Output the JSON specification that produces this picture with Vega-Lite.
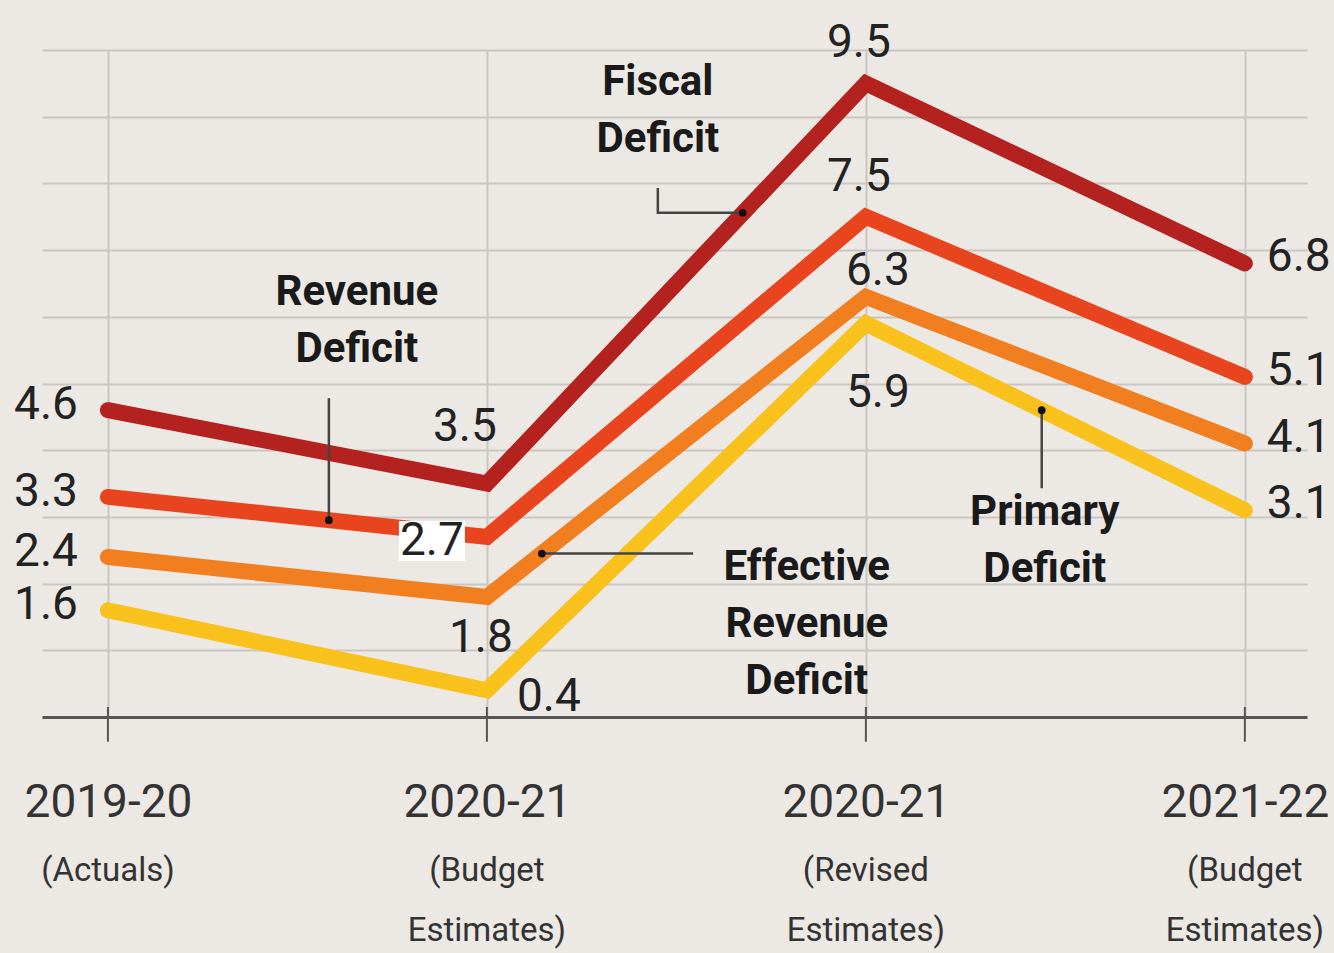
{
  "$schema": "https://vega.github.io/schema/vega-lite/v6.json",
  "width": 1265,
  "height": 667,
  "autosize": "none",
  "padding": {"left": 42, "top": 50, "right": 27, "bottom": 236},
  "background": "#ece8e4",
  "config": {
    "view": {"stroke": null},
    "font": "Roboto, sans-serif"
  },
  "datasets": {
    "main": [
      {"idx": 0, "series": "Fiscal Deficit", "value": 4.6},
      {"idx": 1, "series": "Fiscal Deficit", "value": 3.5},
      {"idx": 2, "series": "Fiscal Deficit", "value": 9.5},
      {"idx": 3, "series": "Fiscal Deficit", "value": 6.8},
      {"idx": 0, "series": "Revenue Deficit", "value": 3.3},
      {"idx": 1, "series": "Revenue Deficit", "value": 2.7},
      {"idx": 2, "series": "Revenue Deficit", "value": 7.5},
      {"idx": 3, "series": "Revenue Deficit", "value": 5.1},
      {"idx": 0, "series": "Effective Revenue Deficit", "value": 2.4},
      {"idx": 1, "series": "Effective Revenue Deficit", "value": 1.8},
      {"idx": 2, "series": "Effective Revenue Deficit", "value": 6.3},
      {"idx": 3, "series": "Effective Revenue Deficit", "value": 4.1},
      {"idx": 0, "series": "Primary Deficit", "value": 1.6},
      {"idx": 1, "series": "Primary Deficit", "value": 0.4},
      {"idx": 2, "series": "Primary Deficit", "value": 5.9},
      {"idx": 3, "series": "Primary Deficit", "value": 3.1}
    ],
    "periods": [
      {"idx": 0, "year": "2019-20", "note": "(Actuals)"},
      {"idx": 1, "year": "2020-21", "note": "(Budget\nEstimates)"},
      {"idx": 2, "year": "2020-21", "note": "(Revised\nEstimates)"},
      {"idx": 3, "year": "2021-22", "note": "(Budget\nEstimates)"}
    ],
    "leaders": [
      {"id": "fd", "o": 0, "x": 1.451, "y": 7.93, "dot": false},
      {"id": "fd", "o": 1, "x": 1.451, "y": 7.56, "dot": false},
      {"id": "fd", "o": 2, "x": 1.675, "y": 7.56, "dot": true},
      {"id": "rd", "o": 0, "x": 0.583, "y": 4.78, "dot": false},
      {"id": "rd", "o": 1, "x": 0.583, "y": 2.95, "dot": true},
      {"id": "erd", "o": 0, "x": 1.145, "y": 2.45, "dot": true},
      {"id": "erd", "o": 1, "x": 1.544, "y": 2.45, "dot": false},
      {"id": "pd", "o": 0, "x": 2.464, "y": 4.6, "dot": true},
      {"id": "pd", "o": 1, "x": 2.464, "y": 3.43, "dot": false}
    ],
    "names": [
      {"x": 1.451, "y": 9.52, "text": "Fiscal\nDeficit"},
      {"x": 0.657, "y": 6.37, "text": "Revenue\nDeficit"},
      {"x": 1.844, "y": 2.25, "text": "Effective\nRevenue\nDeficit"},
      {"x": 2.472, "y": 3.07, "text": "Primary\nDeficit"}
    ]
  },
  "layer": [
    {
      "data": {"name": "main"},
      "mark": {"type": "line", "strokeWidth": 16, "strokeCap": "round", "strokeJoin": "miter"},
      "encoding": {
        "x": {
          "field": "idx", "type": "quantitative",
          "scale": {"domain": [-0.174, 3.164], "nice": false, "zero": false},
          "axis": {
            "values": [0, 1, 2, 3],
            "labelExpr": "datum.value == 0 ? '2019-20' : datum.value == 3 ? '2021-22' : '2020-21'",
            "grid": true, "gridColor": "#c9c5c1", "gridWidth": 2,
            "ticks": false,
            "domainColor": "#555555", "domainWidth": 3,
            "labelFontSize": 46, "labelColor": "#333333", "labelLimit": 0,
            "labelPadding": 63, "labelBaseline": "top",
            "labelFlush": false, "labelOverlap": false,
            "title": null
          }
        },
        "y": {
          "field": "value", "type": "quantitative",
          "scale": {"domain": [0, 10], "nice": false},
          "axis": {
            "values": [1, 2, 3, 4, 5, 6, 7, 8, 9, 10],
            "grid": true, "gridColor": "#c9c5c1", "gridWidth": 2,
            "labels": false, "ticks": false, "domain": false, "title": null
          }
        },
        "color": {
          "field": "series", "type": "nominal",
          "scale": {
            "domain": ["Fiscal Deficit", "Revenue Deficit", "Effective Revenue Deficit", "Primary Deficit"],
            "range": ["#b3221f", "#e8441d", "#f17f1f", "#f9c11c"]
          },
          "legend": null
        },
        "order": {"field": "idx"}
      }
    },
    {
      "data": {"name": "periods"},
      "mark": {"type": "rule", "stroke": "#555555", "strokeWidth": 2},
      "encoding": {
        "x": {"field": "idx", "type": "quantitative"},
        "y": {"datum": 0.15},
        "y2": {"datum": -0.37}
      }
    },
    {
      "data": {"name": "periods"},
      "mark": {"type": "text", "baseline": "top", "align": "center", "fontSize": 33, "lineHeight": 60, "lineBreak": "\n", "color": "#333333"},
      "encoding": {
        "x": {"field": "idx", "type": "quantitative"},
        "y": {"datum": -2.07},
        "text": {"field": "note"}
      }
    },
    {
      "data": {"name": "leaders"},
      "mark": {"type": "line", "stroke": "#444444", "strokeWidth": 2.5},
      "encoding": {
        "x": {"field": "x", "type": "quantitative"},
        "y": {"field": "y", "type": "quantitative"},
        "detail": {"field": "id"},
        "order": {"field": "o"}
      }
    },
    {
      "data": {"name": "leaders"},
      "transform": [{"filter": "datum.dot"}],
      "mark": {"type": "point", "filled": true, "size": 60, "color": "#111111", "opacity": 1},
      "encoding": {
        "x": {"field": "x", "type": "quantitative"},
        "y": {"field": "y", "type": "quantitative"}
      }
    },
    {
      "data": {"name": "main"},
      "transform": [{"filter": "datum.idx == 1 && datum.series == 'Revenue Deficit'"}],
      "mark": {"type": "point", "filled": true, "color": "#ffffff", "opacity": 1, "size": 1600, "shape": "M-1.65,-1L1.65,-1L1.65,1L-1.65,1Z", "xOffset": -55, "yOffset": 4},
      "encoding": {
        "x": {"field": "idx", "type": "quantitative"},
        "y": {"field": "value", "type": "quantitative"}
      }
    },
    {
      "data": {"name": "names"},
      "mark": {"type": "text", "align": "center", "baseline": "middle", "fontSize": 42, "fontWeight": "bold", "lineHeight": 57, "lineBreak": "\n", "color": "#1a1a1a"},
      "encoding": {
        "x": {"field": "x", "type": "quantitative"},
        "y": {"field": "y", "type": "quantitative"},
        "text": {"field": "text"}
      }
    },
    {
      "data": {"name": "main"},
      "transform": [{"filter": "datum.idx == 0"}],
      "mark": {"type": "text", "align": "right", "baseline": "middle", "fontSize": 46, "color": "#222222", "dx": -30, "dy": -5},
      "encoding": {
        "x": {"field": "idx", "type": "quantitative"},
        "y": {"field": "value", "type": "quantitative"},
        "text": {"field": "value", "type": "quantitative", "format": ".1f"}
      }
    },
    {
      "data": {"name": "main"},
      "transform": [{"filter": "datum.idx == 3"}],
      "mark": {"type": "text", "align": "left", "baseline": "middle", "fontSize": 46, "color": "#222222", "dx": 22, "dy": -6},
      "encoding": {
        "x": {"field": "idx", "type": "quantitative"},
        "y": {"field": "value", "type": "quantitative"},
        "text": {"field": "value", "type": "quantitative", "format": ".1f"}
      }
    },
    {
      "data": {"name": "main"},
      "transform": [{"filter": "datum.idx == 2 && (datum.series == 'Fiscal Deficit' || datum.series == 'Revenue Deficit')"}],
      "mark": {"type": "text", "align": "center", "baseline": "middle", "fontSize": 46, "color": "#222222", "dx": -7, "dy": -40},
      "encoding": {
        "x": {"field": "idx", "type": "quantitative"},
        "y": {"field": "value", "type": "quantitative"},
        "text": {"field": "value", "type": "quantitative", "format": ".1f"}
      }
    },
    {
      "data": {"name": "main"},
      "transform": [{"filter": "datum.idx == 2 && datum.series == 'Effective Revenue Deficit'"}],
      "mark": {"type": "text", "align": "center", "baseline": "middle", "fontSize": 46, "color": "#222222", "dx": 12, "dy": -26},
      "encoding": {
        "x": {"field": "idx", "type": "quantitative"},
        "y": {"field": "value", "type": "quantitative"},
        "text": {"field": "value", "type": "quantitative", "format": ".1f"}
      }
    },
    {
      "data": {"name": "main"},
      "transform": [{"filter": "datum.idx == 2 && datum.series == 'Primary Deficit'"}],
      "mark": {"type": "text", "align": "center", "baseline": "middle", "fontSize": 46, "color": "#222222", "dx": 12, "dy": 70},
      "encoding": {
        "x": {"field": "idx", "type": "quantitative"},
        "y": {"field": "value", "type": "quantitative"},
        "text": {"field": "value", "type": "quantitative", "format": ".1f"}
      }
    },
    {
      "data": {"name": "main"},
      "transform": [{"filter": "datum.idx == 1 && datum.series == 'Fiscal Deficit'"}],
      "mark": {"type": "text", "align": "center", "baseline": "middle", "fontSize": 46, "color": "#222222", "dx": -22, "dy": -57},
      "encoding": {
        "x": {"field": "idx", "type": "quantitative"},
        "y": {"field": "value", "type": "quantitative"},
        "text": {"field": "value", "type": "quantitative", "format": ".1f"}
      }
    },
    {
      "data": {"name": "main"},
      "transform": [{"filter": "datum.idx == 1 && datum.series == 'Revenue Deficit'"}],
      "mark": {"type": "text", "align": "center", "baseline": "middle", "fontSize": 46, "color": "#222222", "dx": -55, "dy": 4},
      "encoding": {
        "x": {"field": "idx", "type": "quantitative"},
        "y": {"field": "value", "type": "quantitative"},
        "text": {"field": "value", "type": "quantitative", "format": ".1f"}
      }
    },
    {
      "data": {"name": "main"},
      "transform": [{"filter": "datum.idx == 1 && datum.series == 'Effective Revenue Deficit'"}],
      "mark": {"type": "text", "align": "center", "baseline": "middle", "fontSize": 46, "color": "#222222", "dx": -6, "dy": 41},
      "encoding": {
        "x": {"field": "idx", "type": "quantitative"},
        "y": {"field": "value", "type": "quantitative"},
        "text": {"field": "value", "type": "quantitative", "format": ".1f"}
      }
    },
    {
      "data": {"name": "main"},
      "transform": [{"filter": "datum.idx == 1 && datum.series == 'Primary Deficit'"}],
      "mark": {"type": "text", "align": "center", "baseline": "middle", "fontSize": 46, "color": "#222222", "dx": 62, "dy": 7},
      "encoding": {
        "x": {"field": "idx", "type": "quantitative"},
        "y": {"field": "value", "type": "quantitative"},
        "text": {"field": "value", "type": "quantitative", "format": ".1f"}
      }
    }
  ]
}
